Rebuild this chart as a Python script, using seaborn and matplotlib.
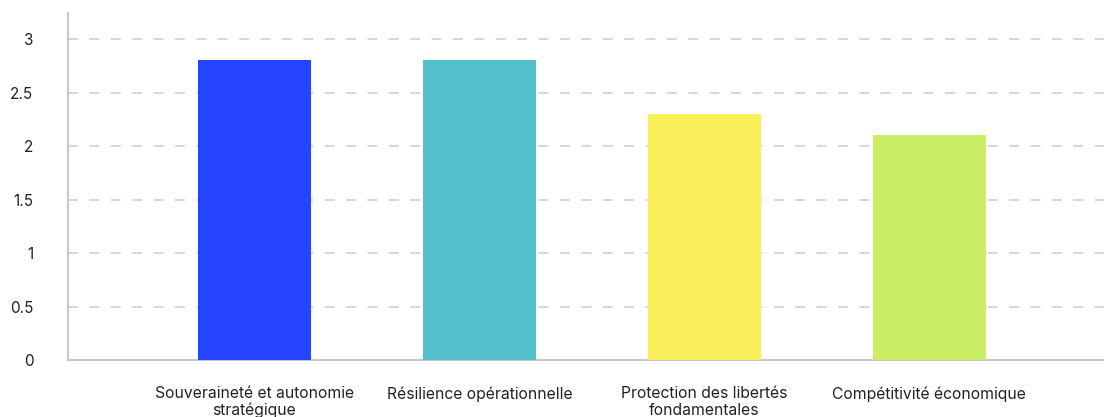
import matplotlib
matplotlib.use("Agg")
import matplotlib.pyplot as plt
import seaborn as sns
import pandas as pd

categories = [
    "Souveraineté et autonomie\nstratégique",
    "Résilience opérationnelle",
    "Protection des libertés\nfondamentales",
    "Compétitivité économique",
]
scores = [2.8, 2.8, 2.3, 2.1]
bar_colors = ["#2345FF", "#53BFCB", "#F9F05A", "#CAEF64"]
y_ticks = [0, 0.5, 1, 1.5, 2, 2.5, 3]
y_tick_labels = ["0", "0.5", "1", "1.5", "2", "2.5", "3"]

sns.set_theme(style="white")
plt.rcParams["font.family"] = ["Inter", "DejaVu Sans"]

df = pd.DataFrame({"category": categories, "score": scores})

W, H = 1104, 417
fig = plt.figure(figsize=(W / 100, H / 100), dpi=100)
ax = fig.add_axes([68 / W, (H - 360) / H, (W - 68) / W, (360 - 13) / H])

sns.barplot(
    data=df, x="category", y="score", hue="category",
    palette=bar_colors, width=0.5, legend=False, ax=ax,
    saturation=1, linewidth=0, zorder=3,
)

ax.set_xlim(-0.829, 3.776)
ax.set_ylim(0, 3.243)
ax.set_yticks(y_ticks)
ax.set_yticklabels(y_tick_labels)
ax.set_xlabel("")
ax.set_ylabel("")

ax.yaxis.grid(True, color="#CCCCCC", linewidth=1.1, dashes=(6.5, 7.5), zorder=0)
ax.xaxis.grid(False)

for side in ["top", "right"]:
    ax.spines[side].set_visible(False)
for side in ["left", "bottom"]:
    ax.spines[side].set_color("#C8C8C8")
    ax.spines[side].set_linewidth(1.5)

ax.tick_params(axis="y", length=0, pad=25, labelsize=11, labelcolor="#222222")
ax.tick_params(axis="x", length=0, pad=19, labelsize=11.3, labelcolor="#222222")
for lbl in ax.get_xticklabels():
    lbl.set_linespacing(1.12)

fig.savefig("out.png", dpi=100)
